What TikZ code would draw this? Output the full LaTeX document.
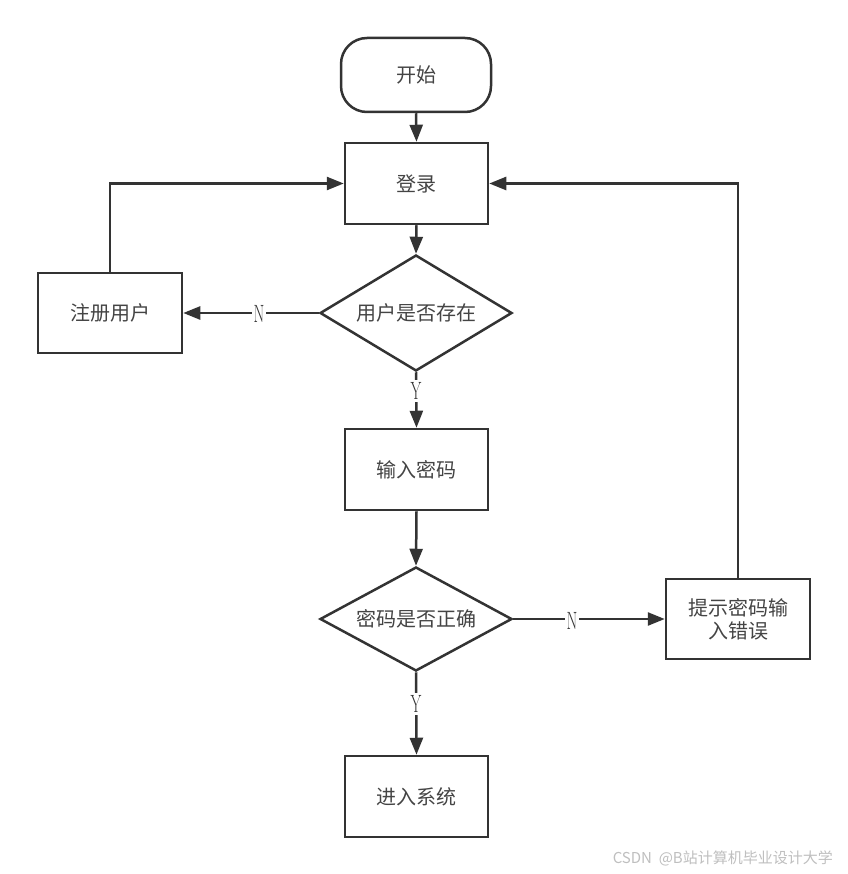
\documentclass[tikz,border=0pt]{standalone}
\usepackage{fontspec}
\usepackage{graphicx}
\setmainfont{Noto Sans CJK SC}
\usetikzlibrary{shapes.geometric,arrows.meta}
\definecolor{ln}{HTML}{333333}
\definecolor{tx}{HTML}{444444}
\tikzset{
  base/.style={draw=ln, line width=2.5pt, text=tx, font=\fontsize{20}{23}\selectfont, inner sep=0pt, align=center},
  procbox/.style={base, rectangle, minimum width=143pt, minimum height=81pt},
  startbox/.style={base, rectangle, rounded corners=26pt, minimum width=150pt, minimum height=74pt},
  decision/.style={base, diamond, minimum width=192pt},
  conn/.style={draw=ln, line width=2.5pt, -{Triangle[length=17pt,width=13pt]}},
  yn/.style={fill=white, text=ln, inner sep=2pt, font=\fontsize{25}{25}\selectfont},
}
\newfontfamily\lmr{Latin Modern Roman}
\newcommand{\yntext}[1]{\scalebox{0.62}[1]{\lmr #1}}
\begin{document}
\begin{tikzpicture}[x=1pt,y=-1pt]
\useasboundingbox[fill=white] (0,0) rectangle (847,874);
\node[startbox] (start) at (416,75) {开始};
\node[procbox] (login) at (416.5,183.5) {登录};
\node[decision, aspect=1.66, minimum height=116pt] (d1) at (416,313) {用户是否存在};
\node[procbox, minimum width=144pt, minimum height=80pt] (reg) at (110,313) {注册用户};
\node[procbox] (pwd) at (416.5,469.5) {输入密码};
\node[decision, aspect=1.85, minimum height=104pt] (d2) at (416,619) {密码是否正确};
\node[procbox, minimum width=144pt, minimum height=80pt] (err) at (738,619) {提示密码输\\入错误};
\node[procbox] (enter) at (416.5,796.5) {进入系统};

\draw[conn] (start.south) -- (login.north);
\draw[conn] (login.south) -- (d1.north);
\draw[conn] (d1.west) -- (reg.east);
\node[yn] (n1) at (259,314) {\yntext{N}};
\draw[conn] (reg.north) |- (login.west);
\draw[conn] (d1.south) -- (pwd.north);
\node[yn] (y1) at (416,391) {\yntext{Y}};
\draw[conn] (pwd.south) -- (d2.north);
\draw[conn] (d2.east) -- (err.west);
\node[yn] (n2) at (572,621) {\yntext{N}};
\draw[conn] (err.north) |- (login.east);
\draw[conn] (d2.south) -- (enter.north);
\node[yn] (y2) at (416,704) {\yntext{Y}};

\node[anchor=east, text=black!25, font=\fontsize{15}{15}\selectfont, inner sep=0pt] (wm) at (833,858) {CSDN~ @B站计算机毕业设计大学};
\end{tikzpicture}
\end{document}
